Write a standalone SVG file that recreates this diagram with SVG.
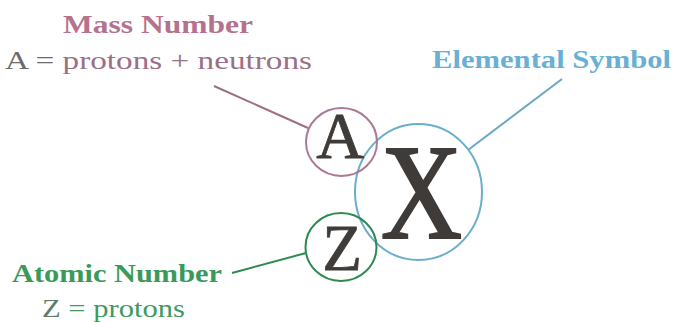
<svg xmlns="http://www.w3.org/2000/svg" width="676" height="322" viewBox="0 0 676 322">
<style>
.sym{font-family:"Liberation Serif","Times New Roman",serif;fill:#3f3b38;stroke:#3f3b38;stroke-width:0.8;text-anchor:middle}
.lbl{font-family:"Liberation Serif","Times New Roman",serif;font-size:26px}
.b{font-weight:bold}
.ring{fill:none;stroke-width:2}
.conn{fill:none;stroke-width:2}
</style>
<rect width="676" height="322" fill="#ffffff"/>
<g id="connectors">
<line class="conn" x1="214" y1="86" x2="308" y2="128" stroke="#9b6f80"/>
<line class="conn" x1="562" y1="79" x2="468" y2="150" stroke="#6aa8c0"/>
<line class="conn" x1="232" y1="273" x2="306" y2="253" stroke="#2e8a50"/>
</g>
<g id="mass-number-label">
<text class="lbl b" x="63" y="33" textLength="190" lengthAdjust="spacingAndGlyphs" fill="#b5728e">Mass Number</text>
<text class="lbl" x="5" y="69" textLength="307" lengthAdjust="spacingAndGlyphs" fill="#9a7088"><tspan fill="#6e6a6c">A =</tspan> protons + neutrons</text>
</g>
<g id="elemental-symbol-label">
<text class="lbl b" x="432" y="68" textLength="239" lengthAdjust="spacingAndGlyphs" fill="#6ab0d4" style="font-size:25px">Elemental Symbol</text>
</g>
<g id="atomic-number-label">
<text class="lbl b" x="12" y="282" textLength="210" lengthAdjust="spacingAndGlyphs" fill="#3a9a5a">Atomic Number</text>
<text class="lbl" x="42" y="317" textLength="143" lengthAdjust="spacingAndGlyphs" fill="#3f9a5e"><tspan fill="#5b7d68">Z</tspan> = protons</text>
</g>
<g id="node-X">
<ellipse class="ring" cx="418.5" cy="192" rx="63.5" ry="68" stroke="#6aaecc"/>
<text class="sym" transform="translate(421.5,238) scale(0.83,1)" font-size="136" style="stroke-width:2">X</text>
</g>
<g id="node-A">
<ellipse class="ring" cx="341.5" cy="142" rx="35.5" ry="34" stroke="#a87a95"/>
<text class="sym" x="340" y="158" font-size="66">A</text>
</g>
<g id="node-Z">
<ellipse class="ring" cx="341" cy="247" rx="35.5" ry="34" stroke="#2f8a4f"/>
<text class="sym" x="342" y="270" font-size="65">Z</text>
</g>
</svg>
